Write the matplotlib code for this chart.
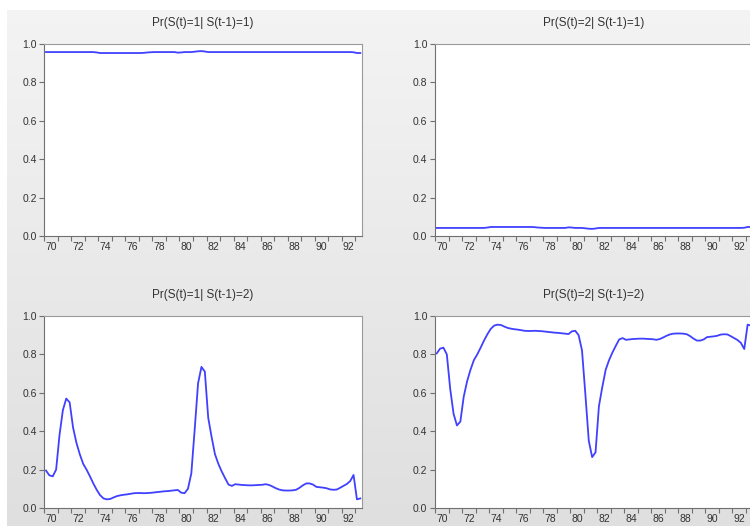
import numpy as np
import matplotlib.pyplot as plt

# quarterly observations, 1970Q1 .. 1993Q2
start_year = 1970
n_obs = 94
dates = [start_year + (i + 0.5) / 4 for i in range(n_obs)]

titles = ["Pr(S(t)=1| S(t-1)=1)", "Pr(S(t)=2| S(t-1)=1)",
          "Pr(S(t)=1| S(t-1)=2)", "Pr(S(t)=2| S(t-1)=2)"]

p11 = [0.958, 0.958, 0.958, 0.958,  0.958, 0.958, 0.958, 0.958,
       0.958, 0.958, 0.958, 0.958,  0.958, 0.958, 0.958, 0.956,
       0.953, 0.953, 0.953, 0.953,  0.953, 0.953, 0.953, 0.953,
       0.953, 0.953, 0.953, 0.953,  0.953, 0.954, 0.956, 0.957,
       0.958, 0.958, 0.958, 0.958,  0.958, 0.958, 0.958, 0.955,
       0.956, 0.958, 0.958, 0.958,  0.960, 0.962, 0.963, 0.961,
       0.958, 0.958, 0.958, 0.958,  0.958, 0.958, 0.958, 0.958,
       0.958, 0.958, 0.958, 0.958,  0.958, 0.958, 0.958, 0.958,
       0.958, 0.958, 0.958, 0.958,  0.958, 0.958, 0.958, 0.958,
       0.958, 0.958, 0.958, 0.958,  0.958, 0.958, 0.958, 0.958,
       0.958, 0.958, 0.958, 0.958,  0.958, 0.958, 0.958, 0.958,
       0.958, 0.958, 0.958, 0.957,  0.953, 0.953]

p21 = [0.042, 0.042, 0.042, 0.042,  0.042, 0.042, 0.042, 0.042,
       0.042, 0.042, 0.042, 0.042,  0.042, 0.042, 0.042, 0.044,
       0.047, 0.047, 0.047, 0.047,  0.047, 0.047, 0.047, 0.047,
       0.047, 0.047, 0.047, 0.047,  0.047, 0.046, 0.044, 0.043,
       0.042, 0.042, 0.042, 0.042,  0.042, 0.042, 0.042, 0.045,
       0.044, 0.042, 0.042, 0.042,  0.040, 0.038, 0.037, 0.039,
       0.042, 0.042, 0.042, 0.042,  0.042, 0.042, 0.042, 0.042,
       0.042, 0.042, 0.042, 0.042,  0.042, 0.042, 0.042, 0.042,
       0.042, 0.042, 0.042, 0.042,  0.042, 0.042, 0.042, 0.042,
       0.042, 0.042, 0.042, 0.042,  0.042, 0.042, 0.042, 0.042,
       0.042, 0.042, 0.042, 0.042,  0.042, 0.042, 0.042, 0.042,
       0.042, 0.042, 0.042, 0.043,  0.047, 0.047]

p12 = [0.195, 0.170, 0.165, 0.200,  0.380, 0.510, 0.570, 0.550,
       0.420, 0.340, 0.280, 0.230,  0.200, 0.165, 0.128, 0.095,
       0.067, 0.050, 0.045, 0.047,  0.055, 0.062, 0.066, 0.069,
       0.071, 0.074, 0.077, 0.078,  0.078, 0.077, 0.078, 0.079,
       0.081, 0.083, 0.085, 0.087,  0.088, 0.090, 0.092, 0.094,
       0.080, 0.077, 0.100, 0.180,  0.410, 0.650, 0.735, 0.710,
       0.470, 0.370, 0.280, 0.230,  0.190, 0.155, 0.122, 0.115,
       0.124, 0.122, 0.120, 0.119,  0.118, 0.118, 0.119, 0.120,
       0.121, 0.124, 0.120, 0.112,  0.103, 0.096, 0.092, 0.091,
       0.091, 0.092, 0.095, 0.105,  0.118, 0.128, 0.128, 0.122,
       0.110, 0.108, 0.106, 0.103,  0.097, 0.095, 0.096, 0.105,
       0.115, 0.125, 0.140, 0.172,  0.045, 0.050]

p22 = [0.805, 0.830, 0.835, 0.800,  0.620, 0.490, 0.430, 0.450,
       0.580, 0.660, 0.720, 0.770,  0.800, 0.835, 0.872, 0.905,
       0.933, 0.950, 0.955, 0.953,  0.945, 0.938, 0.934, 0.931,
       0.929, 0.926, 0.923, 0.922,  0.922, 0.923, 0.922, 0.921,
       0.919, 0.917, 0.915, 0.913,  0.912, 0.910, 0.908, 0.906,
       0.920, 0.923, 0.900, 0.820,  0.590, 0.350, 0.265, 0.290,
       0.530, 0.630, 0.720, 0.770,  0.810, 0.845, 0.878, 0.885,
       0.876, 0.878, 0.880, 0.881,  0.882, 0.882, 0.881, 0.880,
       0.879, 0.876, 0.880, 0.888,  0.897, 0.904, 0.908, 0.909,
       0.909, 0.908, 0.905, 0.895,  0.882, 0.872, 0.872, 0.878,
       0.890, 0.892, 0.894, 0.897,  0.903, 0.905, 0.904, 0.895,
       0.885, 0.875, 0.860, 0.828,  0.955, 0.950]

series = [p11, p21, p12, p22]

year_ticks = list(range(1970, 1994))
label_years = list(range(1970, 1993, 2))
y_ticks = [0.0, 0.2, 0.4, 0.6, 0.8, 1.0]

W, H = 750, 526
fig = plt.figure(figsize=(W / 100, H / 100), dpi=100)
fig.patch.set_facecolor("white")

# gray gradient backdrop
bg = fig.add_axes([7 / W, 0, 1 - 7 / W, 1 - 10 / H], zorder=-10)
grad = np.linspace(0.955, 0.875, 256).reshape(-1, 1)
bg.imshow(np.dstack([grad, grad, grad]), aspect="auto", extent=[0, 1, 0, 1])
bg.set_axis_off()

ax_w = (362 - 44.3) / W
ax_h = 192 / H
positions = [(44.3 / W, 1 - 236 / H), (435 / W, 1 - 236 / H),
             (44.3 / W, 1 - 508 / H), (435 / W, 1 - 508 / H)]

text_col = "#333333"
for (x0, y0), title, vals in zip(positions, titles, series):
    ax = fig.add_axes([x0, y0, ax_w, ax_h])
    ax.set_facecolor("white")
    ax.plot(dates, vals, color="#4040ff", lw=1.3)
    ax.set_xlim(1970, 1993.5)
    ax.set_ylim(0, 1)

    ax.set_yticks(y_ticks)
    ax.set_yticklabels([f"{v:.1f}" for v in y_ticks])
    ax.set_xticks(year_ticks)
    ax.set_xticklabels([])
    ax.set_xticks([y + 0.5 for y in label_years], minor=True)
    ax.set_xticklabels([str(y)[2:] for y in label_years], minor=True)
    ax.tick_params(axis="x", which="major", length=3.5, width=0.8,
                   color="#707070")
    ax.tick_params(axis="x", which="minor", length=0, pad=4,
                   labelsize=7.5, labelcolor=text_col)
    ax.tick_params(axis="y", length=3.5, width=0.8, color="#707070",
                   pad=2, labelsize=7.5, labelcolor=text_col)
    for side in ["left", "bottom"]:
        ax.spines[side].set_color("#707070")
    for side in ["top", "right"]:
        ax.spines[side].set_color("#9a9a9a")
    ax.text(0.5, 1 + 21 / 192, title, transform=ax.transAxes,
            ha="center", va="center", fontsize=8.5, color=text_col,
            family="Liberation Sans")
    for lab in ax.get_xticklabels(minor=True) + ax.get_yticklabels():
        lab.set_family("Liberation Sans")

fig.savefig("out.png", dpi=100)
